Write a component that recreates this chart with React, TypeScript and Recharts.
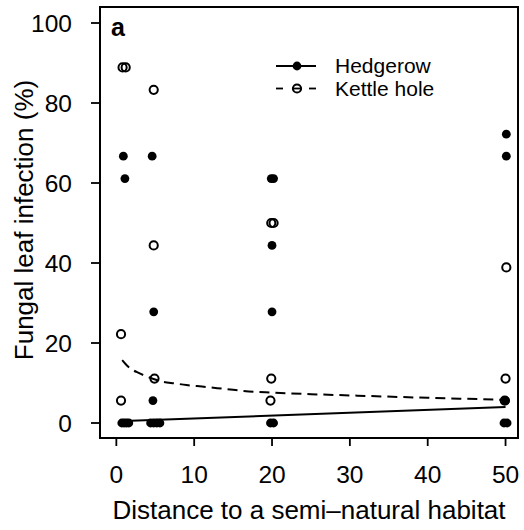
import React from 'react';
import { ComposedChart, Scatter, Line, XAxis, YAxis, ReferenceArea, Legend } from 'recharts';

const FONT = '"Liberation Sans", Arial, Helvetica, sans-serif';

// single samples, distance slightly jittered like in the figure
const hedgeX = [0.7, 1.0, 1.3, 1.6, 0.9, 1.1, 4.4, 4.8, 5.2, 5.6, 4.6, 4.8, 4.7, 19.8, 20.2, 20.0, 20.0, 19.9, 20.2, 49.8, 50.2, 50.0, 50.1, 50.1];
const hedgeY = [0, 0, 0, 0, 66.7, 61.1, 0, 0, 0, 0, 66.7, 27.8, 5.6, 0, 0, 27.8, 44.4, 61.1, 61.1, 0, 0, 5.6, 66.7, 72.2];
const kettleX = [0.8, 1.2, 0.6, 0.6, 4.8, 4.8, 4.9, 19.9, 20.2, 19.9, 19.8, 50.1, 50.0, 49.9];
const kettleY = [88.9, 88.9, 22.2, 5.6, 83.3, 44.4, 11.1, 50, 50, 11.1, 5.6, 38.9, 11.1, 5.6];

// fitted curves
const hedgeFitX = [1, 50];
const hedgeFitY = [0.5, 4.0];
const kettleFitX = [0.75, 1.5, 3, 4.5, 6, 7.5, 9, 11, 14, 17, 20, 25, 30, 40, 50];
const kettleFitY = [15.7, 14.1, 12.4, 11.2, 10.3, 9.9, 9.5, 9.1, 8.5, 7.9, 7.6, 7.2, 6.9, 6.3, 5.8];

const xTicks = [0, 10, 20, 30, 40, 50];
const yTicks = [0, 20, 40, 60, 80, 100];
const X_DOMAIN: [number, number] = [-2.1, 51.6];
const Y_DOMAIN: [number, number] = [-3.75, 104];

const legendItems = [
  { name: 'Hedgerow', dashed: false, filled: true },
  { name: 'Kettle hole', dashed: true, filled: false },
];

const zip = (xs: number[], ys: number[]) => xs.map((x, i) => ({ x, y: ys[i] }));

const hedgeData = zip(hedgeX, hedgeY);
const kettleData = zip(kettleX, kettleY);
const hedgeFit = zip(hedgeFitX, hedgeFitY);
const kettleFit = zip(kettleFitX, kettleFitY);

const FilledDot = (p: any) => <circle cx={p.cx} cy={p.cy} r={4.4} fill="#000" />;
const OpenDot = (p: any) => <circle cx={p.cx} cy={p.cy} r={4.1} fill="none" stroke="#000" strokeWidth={2} />;

const renderLegend = () => (
  <svg width={220} height={56} style={{ fontFamily: FONT, display: 'block' }}>
    {legendItems.map((it, i) => {
      const cy = 16 + i * 22.5;
      return (
        <g key={it.name}>
          {it.dashed ? (
            <>
              <line x1={6} x2={13} y1={cy} y2={cy} stroke="#000" strokeWidth={1.8} />
              <line x1={22} x2={32} y1={cy} y2={cy} stroke="#000" strokeWidth={1.8} />
              <line x1={39} x2={46} y1={cy} y2={cy} stroke="#000" strokeWidth={1.8} />
            </>
          ) : (
            <line x1={6} x2={46} y1={cy} y2={cy} stroke="#000" strokeWidth={1.8} />
          )}
          {it.filled
            ? <circle cx={27} cy={cy} r={4.4} fill="#000" />
            : <circle cx={27} cy={cy} r={4.1} fill="none" stroke="#000" strokeWidth={2} />}
          <text x={65} y={cy + 7.3} fontSize={21} fill="#000">{it.name}</text>
        </g>
      );
    })}
  </svg>
);

export default function App() {
  const tickStyle = { fill: '#000', fontSize: 24.5, fontFamily: FONT };
  return (
    <div style={{ position: 'absolute', left: 0, top: 0, width: 524, height: 530, background: '#fff' }}>
      <ComposedChart width={524} height={530} margin={{ top: 7, right: 6, bottom: 0, left: 0 }}>
        <XAxis
          type="number" dataKey="x" domain={X_DOMAIN} ticks={xTicks} allowDataOverflow
          axisLine={false} tickSize={8} tickMargin={20} tick={tickStyle}
          tickLine={{ stroke: '#000', strokeWidth: 1.8 }} height={92}
          label={{ value: 'Distance to a semi\u2013natural habitat', position: 'insideBottom', offset: 11, style: { fill: '#000', fontSize: 26, fontFamily: FONT } }}
        />
        <YAxis
          type="number" dataKey="y" domain={Y_DOMAIN} ticks={yTicks} allowDataOverflow
          axisLine={false} tickSize={9} tickMargin={19} tick={tickStyle}
          tickLine={{ stroke: '#000', strokeWidth: 1.8 }} width={100}
          label={{
            position: 'center',
            content: () => (
              <text x={33} y={220} transform="rotate(-90 33 220)" textAnchor="middle" fontSize={26} fontFamily={FONT} fill="#000">
                Fungal leaf infection (%)
              </text>
            ),
          }}
        />
        <ReferenceArea
          x1={X_DOMAIN[0]} x2={X_DOMAIN[1]} y1={Y_DOMAIN[0]} y2={Y_DOMAIN[1]}
          fill="none" fillOpacity={0} stroke="#000" strokeWidth={2}
          label={{ value: 'a', position: 'insideTopLeft', offset: 11, style: { fill: '#000', fontSize: 25, fontWeight: 'bold', fontFamily: FONT } }}
        />
        <Line data={hedgeFit} dataKey="y" type="linear" stroke="#000" strokeWidth={2} dot={false} isAnimationActive={false} />
        <Line data={kettleFit} dataKey="y" type="monotone" stroke="#000" strokeWidth={2} strokeDasharray="10 6" dot={false} isAnimationActive={false} />
        <Scatter data={hedgeData} dataKey="y" shape={FilledDot} isAnimationActive={false} />
        <Scatter data={kettleData} dataKey="y" shape={OpenDot} isAnimationActive={false} />
        <Legend
          content={renderLegend} layout="horizontal" verticalAlign="middle" align="center"
          wrapperStyle={{ position: 'absolute', left: 270, top: 50, width: 220, height: 56 }}
        />
      </ComposedChart>
    </div>
  );
}
